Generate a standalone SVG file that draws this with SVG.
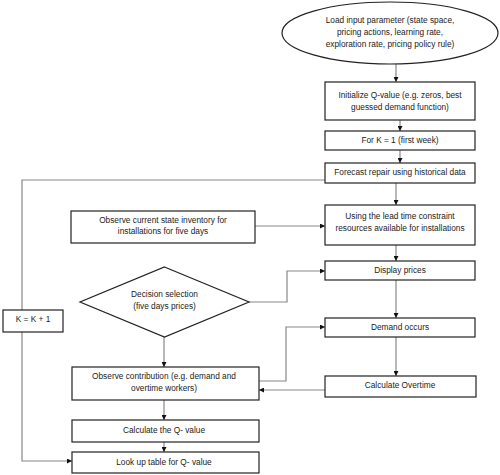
<svg xmlns="http://www.w3.org/2000/svg" width="500" height="475" viewBox="0 0 500 475">
<style>
.b{fill:#fff;stroke:#222;stroke-width:1.2}
.t{font-family:"Liberation Sans",Arial,sans-serif;font-size:8.3px;fill:#222;text-anchor:middle;dominant-baseline:middle}
.c{fill:none;stroke:#888;stroke-width:1.2}
</style>
<defs>
<marker id="a" viewBox="0 0 10 10" refX="10" refY="5" markerWidth="5" markerHeight="5" orient="auto" markerUnits="userSpaceOnUse"><path d="M0,0L10,5L0,10z" fill="#111"/></marker>
</defs>
<g id="connectors">
<path class="c" d="M396,64V82" marker-end="url(#a)"/>
<path class="c" d="M400,120V131" marker-end="url(#a)"/>
<path class="c" d="M400,150V163" marker-end="url(#a)"/>
<path class="c" d="M396,183V205" marker-end="url(#a)"/>
<path class="c" d="M255,226H325" marker-end="url(#a)"/>
<path class="c" d="M396,245V261" marker-end="url(#a)"/>
<path class="c" d="M249,302H287V271H325" marker-end="url(#a)"/>
<path class="c" d="M396,280V318" marker-end="url(#a)"/>
<path class="c" d="M396,337V376" marker-end="url(#a)"/>
<path class="c" d="M325,390H259" marker-end="url(#a)"/>
<path class="c" d="M259,381H286V327H325" marker-end="url(#a)"/>
<path class="c" d="M164,337V367" marker-end="url(#a)"/>
<path class="c" d="M164,400V420" marker-end="url(#a)"/>
<path class="c" d="M164,442V452" marker-end="url(#a)"/>
<path class="c" d="M22,310V180H325"/>
<path class="c" d="M22,332V461H72" marker-end="url(#a)"/>
</g>
<g id="load">
<ellipse class="b" cx="390" cy="33" rx="108" ry="31"/>
<text class="t" x="390" y="21">Load input parameter (state space,</text>
<text class="t" x="390" y="33">pricing actions, learning rate,</text>
<text class="t" x="390" y="45">exploration rate, pricing policy rule)</text>
</g>
<g id="init">
<rect class="b" x="325" y="82" width="150" height="38"/>
<text class="t" x="400" y="96">Initialize Q-value (e.g. zeros, best</text>
<text class="t" x="400" y="108">guessed demand function)</text>
</g>
<g id="fork">
<rect class="b" x="325" y="131" width="150" height="19"/>
<text class="t" x="400" y="141">For K = 1 (first week)</text>
</g>
<g id="forecast">
<rect class="b" x="325" y="163" width="150" height="20"/>
<text class="t" x="400" y="173">Forecast repair using historical data</text>
</g>
<g id="observe-state">
<rect class="b" x="71" y="211" width="184" height="32"/>
<text class="t" x="163" y="221">Observe current state inventory for</text>
<text class="t" x="163" y="232">installations for five days</text>
</g>
<g id="using">
<rect class="b" x="325" y="205" width="150" height="40"/>
<text class="t" x="400" y="217">Using the lead time constraint</text>
<text class="t" x="400" y="229">resources available for installations</text>
</g>
<g id="display">
<rect class="b" x="325" y="261" width="150" height="19"/>
<text class="t" x="400" y="271">Display prices</text>
</g>
<g id="decision">
<polygon class="b" points="164.5,267 249,302 164.5,337 80,302"/>
<text class="t" x="164.5" y="295">Decision selection</text>
<text class="t" x="164.5" y="307">(five days prices)</text>
</g>
<g id="demand">
<rect class="b" x="325" y="318" width="150" height="19"/>
<text class="t" x="400" y="328">Demand occurs</text>
</g>
<g id="overtime">
<rect class="b" x="325" y="376" width="151" height="21"/>
<text class="t" x="400" y="386">Calculate Overtime</text>
</g>
<g id="observe-contribution">
<rect class="b" x="72" y="367" width="187" height="33"/>
<text class="t" x="164" y="377">Observe contribution (e.g. demand and</text>
<text class="t" x="164" y="389">overtime workers)</text>
</g>
<g id="calcq">
<rect class="b" x="72" y="420" width="187" height="22"/>
<text class="t" x="164" y="431">Calculate the Q- value</text>
</g>
<g id="lookup">
<rect class="b" x="72" y="452" width="187" height="21"/>
<text class="t" x="164" y="463">Look up table for Q- value</text>
</g>
<g id="kinc">
<rect class="b" x="3" y="310" width="60" height="22"/>
<text class="t" x="33" y="320">K = K + 1</text>
</g>
</svg>
